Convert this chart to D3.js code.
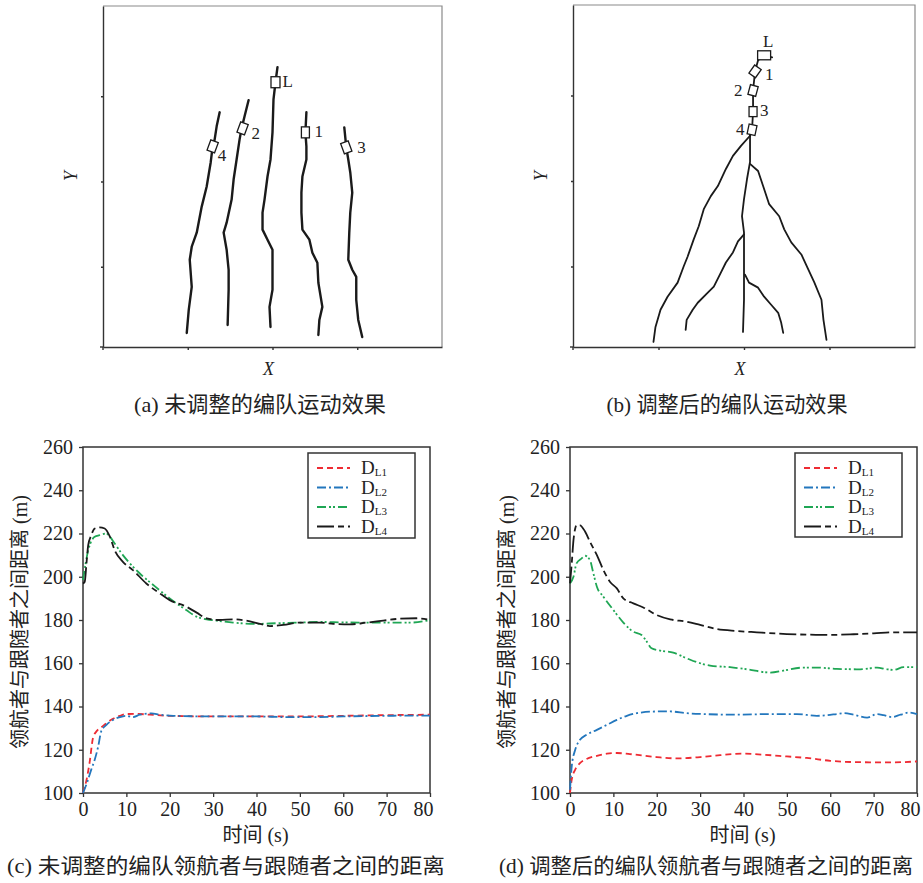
<!DOCTYPE html>
<html>
<head>
<meta charset="utf-8">
<script src="https://cdn.jsdelivr.net/npm/d3@7/dist/d3.min.js"></script>
<style>
  body { margin: 0; background: #fff; }
  svg text { font-family: "Liberation Serif", "Noto Sans CJK SC", serif; fill: #222; }
</style>
</head>
<body>
<svg id="fig" width="923" height="883"></svg>
<script>
// ---------- (a) trajectories before adjustment, [x, y] ----------
var a_L  = [[175,279],[173,264],[171,247],[170,214],[168,187],[165,170],[162,147],[160,134],[160,117],[165,107],[170,97],[170,80],[170,57],[167,40],[168,20]];
var a_F1 = [[204,234],[203,214],[204,200],[204,187],[200,170],[199,154],[199,134],[200,117],[207,107],[210,94],[215,84],[216,64],[220,40],[217,27],[216,12]];
var a_F2 = [[146,246],[142,230],[139,218],[137,207],[134,187],[131,167],[129,147],[124,124],[121,114],[124,97],[126,77],[126,57],[125,22]];
var a_F3 = [[242,219],[244,199],[246,187],[248,174],[250,154],[248,134],[247,114],[246,87],[250,77],[254,70],[254,47],[256,27],[260,10]];
var a_F4 = [[117,234],[114,220],[112,207],[110,200],[108,184],[104,160],[99,140],[94,114],[89,100],[87,87],[89,60],[86,37],[84,14]];
var a_marks    = [[173,264],[203,214],[140,218],[244,199],[110,200]];
var a_markAng  = [0, 0, 20, -20, 20];
var a_names    = ["L","1","2","3","4"];
var a_namePos  = [[180,259],[212,209],[149,207],[255,193],[115,185]];

// ---------- (b) trajectories after adjustment ----------
var b_chain = [[198,288],[190,290],[184,285],[181,274],[179,255],[179,234],[178,216],[176,210]];
var b_left  = [[176,210],[167,200],[159,190],[152,177],[144,160],[137,150],[130,137],[125,120],[120,107],[114,90],[110,80],[104,64],[94,50],[87,37],[82,20],[80,5]];
var b_trunk = [[176,210],[176,184],[173,167],[170,147],[168,130],[170,114],[170,94],[170,70],[170,47],[169,15]];
var b_right = [[176,182],[184,175],[189,160],[195,142],[205,130],[210,117],[217,104],[227,92],[234,77],[240,64],[247,47],[249,27],[252,7]];
var b_midL  = [[170,112],[164,105],[159,94],[152,84],[147,74],[140,60],[134,54],[124,44],[119,37],[113,27],[112,17]];
var b_midR  = [[171,72],[175,64],[184,59],[190,50],[197,42],[204,34],[207,24],[209,14]];
var b_marks   = [[190,290],[181,274],[179,255],[179,234],[178,216]];
var b_markAng = [0, 35, 15, 0, 12];
var b_names   = ["L","1","2","3","4"];
var b_namePos = [[189,298],[191,265],[160,250],[186,230],[162,211]];

var trajXTicks = [85,170,255];
var trajYTicks = [80,165,250];

// ---------- (c) distances before adjustment, [t (s), d (m)] ----------
var c_DL1 = [[0,100],[0.9,106.9],[1.5,113.8],[2.3,125.4],[3.1,128.5],[4.2,130.3],[5.4,132.3],[6.9,134.3],[8.5,135.7],[10,136.5],[12.3,136.6],[15.4,136.2],[20,135.7],[30,135.4],[40,135.4],[50,135.4],[60,135.7],[70,136],[80,136.2]];
var c_DL2 = [[0,100],[0.9,104.6],[1.9,110.8],[2.7,115.4],[3.5,121.5],[4.2,128.5],[5.4,131.5],[6.9,133.8],[8.5,135.1],[10,135.7],[11.5,135.1],[13.1,136.2],[15.8,136.8],[17.7,136.2],[20.8,135.7],[30,135.4],[40,135.4],[47,135.1],[54.6,135.1],[60,135.4],[70,135.7],[80,135.8]];
var c_DL3 = [[0,198.5],[0.6,206],[1.2,212.3],[1.7,215.4],[2.7,218.5],[3.8,219.2],[5.4,220],[6.2,218.5],[7.3,215.4],[9.2,210],[10.8,206.2],[13.1,201.5],[16.2,196.2],[20,190],[23.8,184.6],[26.2,181.5],[28.5,180.3],[30.8,179.7],[34.6,178.8],[40,178.2],[44.6,178.5],[50,178.8],[54.6,179.1],[60,178.9],[65.4,178.8],[70,178.8],[75.4,178.8],[80,180]];
var c_DL4 = [[0,196.9],[0.4,197.7],[0.8,206.2],[1.2,214.6],[1.9,219.2],[2.7,222.3],[3.8,222.8],[5,222.3],[6.2,218.5],[7.3,212.3],[9.2,206.9],[11.5,203.1],[14.6,196.9],[17.7,192.3],[20,189.2],[23.8,186.2],[26.2,183.4],[28.5,180.8],[31.5,180],[34.6,180.3],[37.7,179.7],[40.8,178.2],[43.1,177.2],[46.2,177.7],[50,178.8],[54.6,178.8],[57.7,178.2],[61.5,178],[65.4,178.8],[69.2,179.7],[73.1,180.6],[76.9,180.8],[80,180]];

// ---------- (d) distances after adjustment ----------
var d_DL1 = [[0,100],[0.4,106.2],[1.2,110.8],[2.3,113.8],[3.8,115.7],[6.2,117.2],[8.5,118.2],[10.8,118.5],[13.8,118],[20,116.6],[24.6,116],[30,116.6],[34.6,117.5],[40,118.2],[44.6,117.7],[50,116.9],[54.6,116.2],[60,114.9],[65.4,114.3],[70,114.2],[74.6,114.2],[80,114.6]];
var d_DL2 = [[0,101.5],[0.4,112.3],[1.2,120],[2.3,124.6],[3.8,126.9],[6.2,129.2],[8.5,131.5],[10.8,133.8],[13.1,135.7],[15.4,136.9],[20,137.7],[23.1,137.7],[26.9,136.9],[30.8,136.5],[38.5,136.2],[46.2,136.5],[52.3,136.5],[56.9,135.7],[61.5,136.5],[63.1,136.9],[65.4,136.2],[68.5,134.9],[70.8,136.5],[72.3,136],[74.2,135.1],[76.2,136.2],[78.1,137.2],[80,136.5]];
var d_DL3 = [[0,196.9],[0.8,200],[1.5,206.2],[2.7,208.5],[3.5,209.7],[4.6,207.7],[5.4,201.5],[6.2,195.4],[7.7,190.8],[10,184.6],[12.3,178.8],[14.6,174.6],[16.5,173.1],[17.7,170],[18.8,166.9],[20.8,165.8],[23.8,164.9],[26.9,162.3],[30,160],[32.3,158.9],[36.9,158.2],[40.8,157.2],[46.2,155.7],[49.2,156.6],[53.8,158],[56.9,158],[61.5,157.4],[66.9,157.2],[70.8,158],[73.1,157.2],[74.6,156.9],[76.9,158.2],[80,158.2]];
var d_DL4 = [[0,196.9],[0.4,206.2],[0.8,216.9],[1.2,222.3],[1.5,223.8],[2.3,223.8],[3.5,220.8],[4.6,216.2],[6.2,210],[7.7,203.1],[9.2,197.7],[10.8,194.6],[12.3,190],[14.6,187.7],[16.9,185.8],[20,182.3],[23.1,180.3],[26.9,179.2],[30,177.7],[33.8,175.8],[38.5,174.9],[43.1,174.3],[50,173.5],[55.4,173.2],[60,173.1],[65.4,173.4],[70,173.8],[74.6,174.3],[80,174.3]];

var seriesNames = ["L1","L2","L3","L4"];
var timeTicks = [0,10,20,30,40,50,60,70,80];
var distTicks = [100,120,140,160,180,200,220,240,260];

var seriesColors = ["#ee2b33","#2377bd","#1fa654","#1a1a1a"];
var seriesDash   = ["6,4","9,3,2,3","9,3,2,2,2,3","17,4,6,4"];

var svg = d3.select("#fig");

function drawTraj(box, paths, marks, markAng, names, namePos, caption, capX, capLen, markSizes){
  var g = svg.append("g");
  var xs = d3.scaleLinear().domain([0,340]).range([box.x0, box.x1]);
  var ys = d3.scaleLinear().domain([0,340]).range([box.y1, box.y0]);

  // grey frame top / right
  g.append("path")
   .attr("d", "M"+box.x0+","+box.y0+"H"+box.x1+"V"+box.y1)
   .attr("fill","none").attr("stroke","#8a8a8a").attr("stroke-width",1.2);

  var ax = g.append("g").attr("transform","translate(0,"+box.y1+")")
    .call(d3.axisBottom(xs).tickValues(trajXTicks).tickSize(3).tickSizeOuter(0).tickFormat(""));
  var ay = g.append("g").attr("transform","translate("+box.x0+",0)")
    .call(d3.axisLeft(ys).tickValues(trajYTicks).tickSize(2).tickSizeOuter(0).tickFormat(""));
  [ax, ay].forEach(function(a){
    a.selectAll("path,line").attr("stroke","#333").attr("stroke-width",1.4);
  });
  // small overhang of the axes at the corner
  g.append("line").attr("x1",box.x0-3).attr("x2",box.x0).attr("y1",box.y1).attr("y2",box.y1).attr("stroke","#333").attr("stroke-width",1.4);
  g.append("line").attr("x1",box.x0).attr("x2",box.x0).attr("y1",box.y1).attr("y2",box.y1+3).attr("stroke","#333").attr("stroke-width",1.4);

  var line = d3.line().x(function(d){return xs(d[0]);}).y(function(d){return ys(d[1]);});
  paths.forEach(function(p){
    g.append("path").attr("d", line(p.pts))
     .attr("fill","none").attr("stroke","#1a1a1a").attr("stroke-width",p.w)
     .attr("stroke-linejoin","round").attr("stroke-linecap","round");
  });

  marks.forEach(function(m,i){
    var s = markSizes[i];
    g.append("rect")
     .attr("x",-s[0]/2).attr("y",-s[1]/2).attr("width",s[0]).attr("height",s[1])
     .attr("transform","translate("+xs(m[0])+","+ys(m[1])+") rotate("+markAng[i]+")")
     .attr("fill","#fff").attr("stroke","#1a1a1a").attr("stroke-width",1.3);
  });
  names.forEach(function(n,i){
    g.append("text").attr("x",xs(namePos[i][0])).attr("y",ys(namePos[i][1]))
     .attr("font-size",17).text(n);
  });

  g.append("text").attr("x",(box.x0+box.x1)/2-4).attr("y",375)
   .attr("text-anchor","middle").attr("font-size",18).attr("font-style","italic").text("X");
  g.append("text").attr("transform","translate("+(box.x0-26)+",176) rotate(-90)")
   .attr("text-anchor","middle").attr("font-size",18).attr("font-style","italic").text("Y");

  g.append("text").attr("x",capX).attr("y",412).attr("text-anchor","middle")
   .attr("font-size",22).attr("textLength",capLen).attr("lengthAdjust","spacingAndGlyphs").text(caption);
}

function drawDist(box, data, legend, yTitleX, caption, capX, capLen){
  var g = svg.append("g");
  var x = d3.scaleLinear().domain([0,80]).range([box.x0, box.x1]);
  var y = d3.scaleLinear().domain([100,260]).range([box.y1, box.y0]);

  g.append("rect").attr("x",box.x0).attr("y",box.y0)
   .attr("width",box.x1-box.x0).attr("height",box.y1-box.y0)
   .attr("fill","none").attr("stroke","#333").attr("stroke-width",1.5);

  var xa = g.append("g").attr("transform","translate(0,"+box.y1+")")
    .call(d3.axisBottom(x).tickValues(timeTicks).tickSize(4).tickSizeOuter(0).tickPadding(5));
  var ya = g.append("g").attr("transform","translate("+box.x0+",0)")
    .call(d3.axisLeft(y).tickValues(distTicks).tickSize(4).tickSizeOuter(0).tickPadding(6));
  [xa, ya].forEach(function(a){
    a.select(".domain").remove();
    a.selectAll("line").attr("stroke","#333").attr("stroke-width",1.3);
    a.selectAll("text").attr("font-size",20).attr("fill","#222")
     .style("font-family","'Liberation Serif', serif");
  });
  // the last time label is pulled in so it stays inside the page
  xa.selectAll(".tick text").filter(function(d){ return d === 80; }).attr("dx",-7);

  var line = d3.line().curve(d3.curveMonotoneX)
    .x(function(d){return x(d[0]);}).y(function(d){return y(d[1]);});
  data.forEach(function(s,i){
    g.append("path").attr("d", line(s))
     .attr("fill","none").attr("stroke",seriesColors[i]).attr("stroke-width",1.8)
     .attr("stroke-dasharray",seriesDash[i]);
  });

  // legend
  g.append("rect").attr("x",legend.x).attr("y",legend.y).attr("width",legend.w).attr("height",legend.h)
   .attr("fill","#fff").attr("stroke","#333").attr("stroke-width",1.5);
  seriesNames.forEach(function(n,i){
    var ly = legend.y + 15 + i*19.5;
    g.append("line").attr("x1",legend.x+9).attr("x2",legend.x+42).attr("y1",ly).attr("y2",ly)
     .attr("stroke",seriesColors[i]).attr("stroke-width",1.8).attr("stroke-dasharray",seriesDash[i]);
    var t = g.append("text").attr("x",legend.x+53).attr("y",ly+6).attr("font-size",19);
    t.append("tspan").text("D");
    t.append("tspan").attr("font-size",11).attr("dy",2).text(n);
  });

  g.append("text").attr("x",(box.x0+box.x1)/2-1).attr("y",842)
   .attr("text-anchor","middle").attr("font-size",20).text("时间 (s)");
  g.append("text").attr("transform","translate("+yTitleX+","+((box.y0+box.y1)/2+2)+") rotate(-90)")
   .attr("text-anchor","middle").attr("dy","0.35em").attr("font-size",20).text("领航者与跟随者之间距离 (m)");

  g.append("text").attr("x",capX).attr("y",873).attr("text-anchor","middle")
   .attr("font-size",21).attr("textLength",capLen).attr("lengthAdjust","spacingAndGlyphs").text(caption);
}

var followerSize = [8,11];
drawTraj({x0:103,x1:442,y0:6,y1:347},
  [{pts:a_L,w:2.4},{pts:a_F1,w:2.4},{pts:a_F2,w:2.4},{pts:a_F3,w:2.4},{pts:a_F4,w:2.4}],
  a_marks, a_markAng, a_names, a_namePos, "(a) 未调整的编队运动效果", 260, 252,
  [[9,11],followerSize,followerSize,followerSize,followerSize]);

drawTraj({x0:573,x1:915,y0:5,y1:347},
  [{pts:b_chain,w:1.8},{pts:b_left,w:1.8},{pts:b_trunk,w:1.8},{pts:b_right,w:1.8},{pts:b_midL,w:1.8},{pts:b_midR,w:1.8}],
  b_marks, b_markAng, b_names, b_namePos, "(b) 调整后的编队运动效果", 727, 241,
  [[13,9],[8,10],[8,10],[8,10],[8,10]]);

drawDist({x0:83,x1:430,y0:447,y1:793}, [c_DL1,c_DL2,c_DL3,c_DL4],
  {x:308,y:453,w:107,h:85}, 20, "(c) 未调整的编队领航者与跟随者之间的距离", 226, 438);

drawDist({x0:570,x1:917,y0:447,y1:793}, [d_DL1,d_DL2,d_DL3,d_DL4],
  {x:795,y:453,w:107,h:84}, 507, "(d) 调整后的编队领航者与跟随者之间的距离", 706, 414);
</script>
</body>
</html>
